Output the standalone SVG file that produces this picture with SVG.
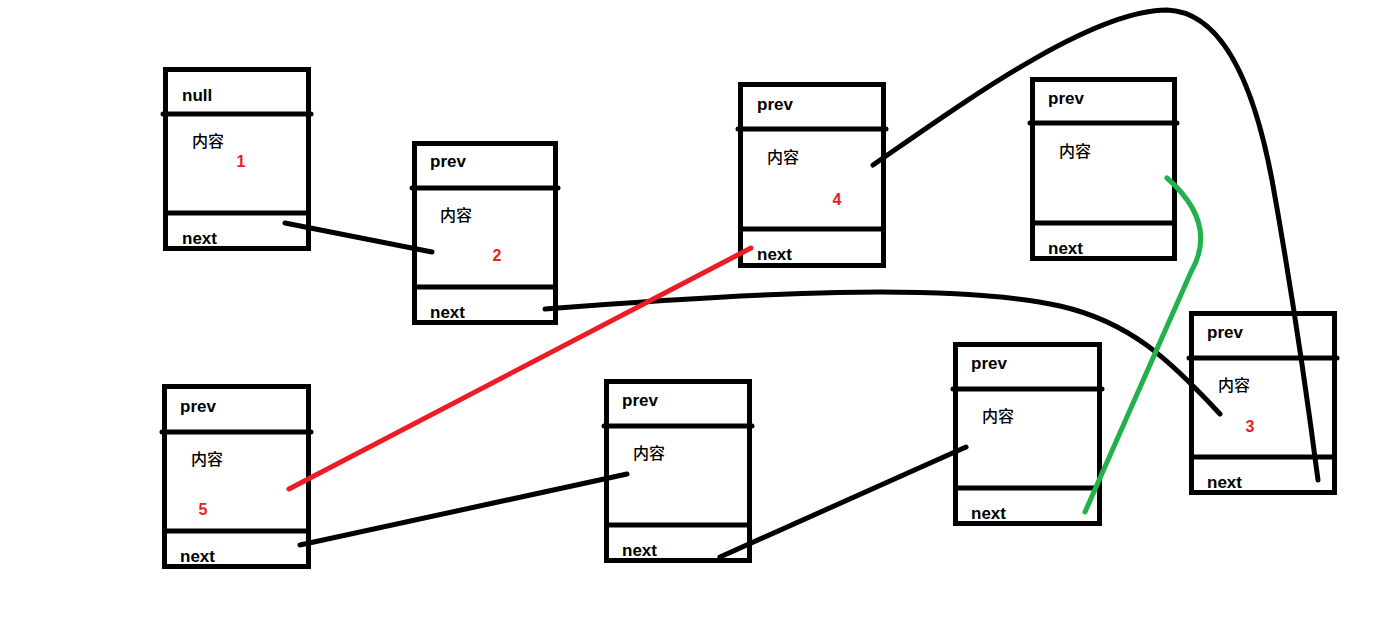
<svg xmlns="http://www.w3.org/2000/svg" width="1375" height="637" viewBox="0 0 1375 637">
  <style>
    .box { fill: none; stroke: #000; stroke-width: 5; }
    .div { stroke: #000; stroke-width: 5; }
    .divr { stroke: #000; stroke-width: 5; stroke-linecap: round; }
    .lbl { font-family: "Liberation Sans", Arial, sans-serif; font-weight: bold; font-size: 17px; fill: #000; }
    .cn { font-family: "Noto Sans CJK SC", "Noto Sans", sans-serif; font-size: 16px; font-weight: 500; fill: #000; }
    .num { font-family: "Liberation Sans", Arial, sans-serif; font-weight: bold; font-size: 16px; fill: #ED1C24; text-anchor: middle; }
    .wire { fill: none; stroke: #000; stroke-width: 5; stroke-linecap: round; }
    .red { fill: none; stroke: #ED1C24; stroke-width: 5; stroke-linecap: round; }
    .green { fill: none; stroke: #22B14C; stroke-width: 5; stroke-linecap: round; }
  </style>
  <rect width="1375" height="637" fill="#fff"/>

  <!-- list nodes: header / content / next -->
  <g id="node-1">
    <rect class="box" x="165.5" y="69.5" width="143" height="179"/>
    <line class="divr" x1="163" y1="114" x2="311" y2="114"/>
    <line class="div" x1="163" y1="213" x2="311" y2="213"/>
    <text class="lbl" x="182" y="101">null</text>
    <text class="cn" x="192" y="147">内容</text>
    <text class="num" x="241" y="167">1</text>
    <text class="lbl" x="182" y="244">next</text>
  </g>

  <g id="node-2">
    <rect class="box" x="414.5" y="143.5" width="141" height="179"/>
    <line class="divr" x1="412" y1="188" x2="558" y2="188"/>
    <line class="div" x1="412" y1="287" x2="558" y2="287"/>
    <text class="lbl" x="430" y="167">prev</text>
    <text class="cn" x="440" y="221">内容</text>
    <text class="num" x="497" y="261">2</text>
    <text class="lbl" x="430" y="318">next</text>
  </g>

  <g id="node-4">
    <rect class="box" x="740.5" y="84.5" width="143" height="181"/>
    <line class="divr" x1="738" y1="129" x2="886" y2="129"/>
    <line class="div" x1="738" y1="229" x2="886" y2="229"/>
    <text class="lbl" x="757" y="110">prev</text>
    <text class="cn" x="767" y="163">内容</text>
    <text class="num" x="837" y="205">4</text>
    <text class="lbl" x="757" y="260">next</text>
  </g>

  <g id="node-6">
    <rect class="box" x="1032.5" y="79.5" width="142" height="179"/>
    <line class="divr" x1="1030" y1="123" x2="1177" y2="123"/>
    <line class="div" x1="1030" y1="223" x2="1177" y2="223"/>
    <text class="lbl" x="1048" y="104">prev</text>
    <text class="cn" x="1059" y="157">内容</text>
    <text class="lbl" x="1048" y="254">next</text>
  </g>

  <g id="node-3">
    <rect class="box" x="1191.5" y="313.5" width="143" height="179"/>
    <line class="divr" x1="1189" y1="358" x2="1337" y2="358"/>
    <line class="div" x1="1189" y1="457" x2="1337" y2="457"/>
    <text class="lbl" x="1207" y="338">prev</text>
    <text class="cn" x="1218" y="391">内容</text>
    <text class="num" x="1250" y="432">3</text>
    <text class="lbl" x="1207" y="488">next</text>
  </g>

  <g id="node-5">
    <rect class="box" x="164.5" y="386.5" width="144" height="180"/>
    <line class="divr" x1="162" y1="432" x2="311" y2="432"/>
    <line class="div" x1="162" y1="531" x2="311" y2="531"/>
    <text class="lbl" x="180" y="412">prev</text>
    <text class="cn" x="191" y="465">内容</text>
    <text class="num" x="203" y="515">5</text>
    <text class="lbl" x="180" y="562">next</text>
  </g>

  <g id="node-7">
    <rect class="box" x="606.5" y="381.5" width="143" height="179"/>
    <line class="divr" x1="604" y1="426" x2="752" y2="426"/>
    <line class="div" x1="604" y1="525" x2="752" y2="525"/>
    <text class="lbl" x="622" y="406">prev</text>
    <text class="cn" x="633" y="459">内容</text>
    <text class="lbl" x="622" y="556">next</text>
  </g>

  <g id="node-8">
    <rect class="box" x="955.5" y="344.5" width="144" height="179"/>
    <line class="divr" x1="953" y1="389" x2="1102" y2="389"/>
    <line class="div" x1="953" y1="488" x2="1102" y2="488"/>
    <text class="lbl" x="971" y="369">prev</text>
    <text class="cn" x="982" y="422">内容</text>
    <text class="lbl" x="971" y="519">next</text>
  </g>

  <!-- links between nodes -->
  <g id="connectors">
    <line class="wire" x1="285" y1="223" x2="432" y2="252"/>
    <path class="wire" d="M545,309 C750,293 950,282 1060,306 C1130,322 1170,360 1220,414"/>
    <line class="red" x1="751" y1="248" x2="289" y2="489"/>
    <path class="wire" d="M873,165 C960,105 1090,10 1167,10 C1225,12 1255,90 1272,180 C1290,280 1305,380 1318,480"/>
    <path class="green" d="M1167,178 C1192,200 1214,232 1191,272 L1085,512"/>
    <line class="wire" x1="300" y1="545" x2="627" y2="474"/>
    <line class="wire" x1="720" y1="557" x2="966" y2="447"/>
  </g>
</svg>
